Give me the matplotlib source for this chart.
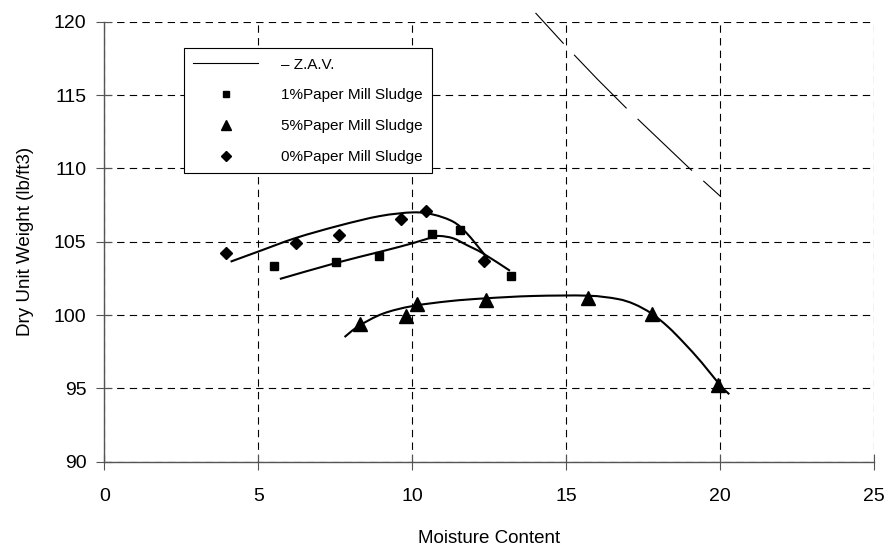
import numpy as np
import matplotlib
matplotlib.use("Agg")
import matplotlib.pyplot as plt
from matplotlib.lines import Line2D
from matplotlib.path import Path
from matplotlib.patches import PathPatch

moisture_0 = [3.95, 6.21, 7.63, 9.63, 10.43, 12.32]
weight_0 = [104.25, 104.93, 105.46, 106.53, 107.07, 103.68]
moisture_1 = [5.51, 7.52, 8.93, 10.64, 11.56, 13.19]
weight_1 = [103.34, 103.62, 104.03, 105.52, 105.78, 102.66]
moisture_5 = [8.29, 9.78, 10.14, 12.40, 15.71, 17.78, 19.94]
weight_5 = [99.41, 99.93, 100.77, 101.00, 101.18, 100.05, 95.20]
zav_moisture = [14, 15, 16, 17, 18, 19, 20]
zav_weight = [120.6, 118.3, 116.1, 114.0, 112.0, 110.0, 108.1]

# hand-drawn fitted curves
curve_0_x = [4.10, 5.00, 6.21, 7.63, 8.95, 10.03, 10.68, 11.33, 11.77, 12.31, 12.45]
curve_0_y = [103.64, 104.33, 105.25, 106.10, 106.75, 107.00, 106.85, 106.36, 105.57, 104.21, 103.85]
curve_1_x = [5.70, 7.52, 8.93, 10.00, 10.64, 10.90, 11.33, 11.77, 12.29, 13.17]
curve_1_y = [102.46, 103.55, 104.30, 104.89, 105.30, 105.39, 105.23, 104.77, 104.21, 103.02]
curve_5_x = [7.80, 8.26, 9.04, 10.00, 11.22, 12.38, 13.93, 15.69, 16.65, 17.20, 17.77, 18.30, 18.82, 19.40, 20.00, 20.29]
curve_5_y = [98.50, 99.25, 100.09, 100.61, 100.95, 101.14, 101.30, 101.32, 101.10, 100.75, 100.10, 99.20, 98.10, 96.75, 95.20, 94.60]

labels = ["\u2013 Z.A.V.", "1%Paper Mill Sludge", "5%Paper Mill Sludge", "0%Paper Mill Sludge"]
x_ticks = [0, 5, 10, 15, 20, 25]
y_ticks = [90, 95, 100, 105, 110, 115, 120]

plt.rcParams['font.family'] = ['Liberation Sans', 'DejaVu Sans']
plt.rcParams['lines.scale_dashes'] = False

axis_grey = '#555555'


def smooth_curve(xs, ys):
    # smoothed line through the points (Catmull-Rom as bezier segments)
    p = np.column_stack([xs, ys])
    ext = np.vstack([p[0], p, p[-1]])
    verts = [tuple(p[0])]
    codes = [Path.MOVETO]
    for i in range(1, len(ext) - 2):
        c1 = ext[i] + (ext[i + 1] - ext[i - 1]) / 6.0
        c2 = ext[i + 1] - (ext[i + 2] - ext[i]) / 6.0
        verts += [tuple(c1), tuple(c2), tuple(ext[i + 1])]
        codes += [Path.CURVE4] * 3
    return Path(verts, codes)


def plot_compaction():
    fig = plt.figure(figsize=(8.9, 5.54), dpi=100)
    ax = fig.add_axes([0.1172, 0.1666, 0.8652, 0.7942])

    for cx, cy in [(curve_0_x, curve_0_y), (curve_1_x, curve_1_y), (curve_5_x, curve_5_y)]:
        ax.add_patch(PathPatch(smooth_curve(cx, cy), fill=False, edgecolor='black',
                               lw=1.5, zorder=3, capstyle='butt'))

    ax.plot(zav_moisture, zav_weight, color='black', lw=0.8,
            linestyle=(24, (54, 11)), clip_on=False, zorder=3)

    ax.plot(moisture_1, weight_1, 's', color='black', ms=5.8, ls='none', zorder=4)
    ax.plot(moisture_5, weight_5, '^', color='black', ms=10.5, ls='none', zorder=4)
    ax.plot(moisture_0, weight_0, 'D', color='black', ms=6.6, ls='none', zorder=4)

    ax.set_xlim(0, 25)
    ax.set_ylim(90, 120)
    ax.set_xticks(x_ticks)
    ax.set_yticks(y_ticks)
    ax.tick_params(direction='inout', length=12, width=0.8, color=axis_grey,
                   labelsize=14, labelcolor='black')
    ax.tick_params(axis='y', pad=7)
    ax.tick_params(axis='x', pad=13)

    ax.grid(True, color='black', lw=0.8, linestyle=(0, (5.3, 3.8)))
    ax.set_axisbelow(True)
    for side in ['top', 'right']:
        ax.spines[side].set_visible(False)
    for side in ['left', 'bottom']:
        ax.spines[side].set_color(axis_grey)
        ax.spines[side].set_linewidth(1.0)

    ax.set_xlabel("Moisture Content", fontsize=13.5)
    ax.set_ylabel("Dry Unit Weight (lb/ft3)", fontsize=13.5)
    ax.xaxis.set_label_coords(0.5, -0.155)
    ax.yaxis.set_label_coords(-0.0913, 0.5)

    handles = [
        Line2D([], [], color='black', lw=0.8),
        Line2D([], [], marker='s', color='black', ms=5, ls='none'),
        Line2D([], [], marker='^', color='black', ms=7, ls='none'),
        Line2D([], [], marker='D', color='black', ms=5, ls='none'),
    ]
    leg = ax.legend(handles, labels, loc='upper left',
                    bbox_to_anchor=(0.1039, 0.9395), borderaxespad=0,
                    fontsize=11, frameon=True, fancybox=False, framealpha=1,
                    edgecolor='black', handlelength=4.2, handletextpad=1.55,
                    labelspacing=1.1, borderpad=0.6)
    leg.get_frame().set_linewidth(0.8)

    fig.savefig("out.png", dpi=100)


if __name__ == "__main__":
    plot_compaction()
